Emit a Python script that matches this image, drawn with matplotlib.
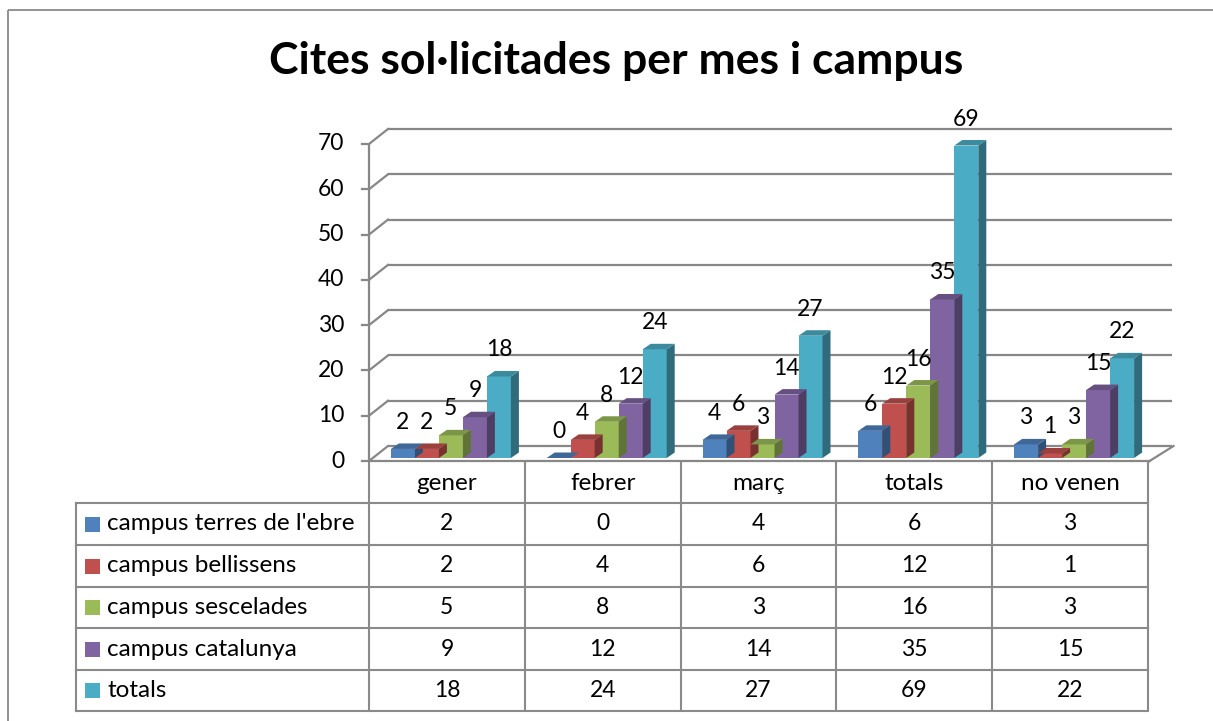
import matplotlib
matplotlib.use("Agg")
import matplotlib.pyplot as plt
import matplotlib.transforms as mtransforms
from matplotlib.patches import Polygon, Rectangle
from matplotlib.lines import Line2D
import numpy as np

plt.rcParams['font.family'] = ['Lato', 'DejaVu Sans']

# ---------------- data ----------------
title = "Cites sol·licitades per mes i campus"
categories = ["gener", "febrer", "març", "totals", "no venen"]
series_names = ["campus terres de l'ebre", "campus bellissens", "campus sescelades",
                "campus catalunya", "totals"]
terres_ebre = [2, 0, 4, 6, 3]
bellissens = [2, 4, 6, 12, 1]
sescelades = [5, 8, 3, 16, 3]
catalunya = [9, 12, 14, 35, 15]
totals = [18, 24, 27, 69, 22]
series_values = [terres_ebre, bellissens, sescelades, catalunya, totals]
colors = ["#4F81BD", "#C0504D", "#9BBB59", "#8064A2", "#4BACC6"]
yticks = [0, 10, 20, 30, 40, 50, 60, 70]

# ---------------- layout ----------------
W, H = 1213, 721
fig = plt.figure(figsize=(W / 100, H / 100), dpi=100)

# overlay axes in pixel coordinates (y downward)
ov = fig.add_axes([0, 0, 1, 1], zorder=0)
ov.set_xlim(0, W)
ov.set_ylim(H, 0)
ov.axis('off')

ax_left, ax_right, ax_bot, ax_top = 369, 1148, 461, 144
ax = fig.add_axes([ax_left / W, (H - ax_bot) / H, (ax_right - ax_left) / W, (ax_bot - ax_top) / H],
                  zorder=1)
ax.set_xlim(0, len(categories))
ax.set_ylim(0, 70)
ax.axis('off')
ax.patch.set_alpha(0)

grid_c = "#878787"
DX, DY = 19, 15          # back-wall offset (px)
back = mtransforms.offset_copy(ax.transData, fig=fig, x=DX, y=DY, units='dots')
barT = mtransforms.offset_copy(ax.transData, fig=fig, x=4, y=3, units='dots')
ident = mtransforms.IdentityTransform()

# outer border
ov.add_patch(Rectangle((8, 9.5), W + 20, H + 20, fill=False, ec="#8a8a8a", lw=1.3))

# gridlines on back wall + left wall diagonals
ncat = len(categories)
for v in yticks:
    ax.plot([0, ncat + 0.03], [v, v], color=grid_c, lw=1.6, transform=back, clip_on=False,
            solid_capstyle='butt')
    p = ax.transData.transform((0, v))
    fig.add_artist(Line2D([p[0], p[0] + DX], [p[1], p[1] + DY], color=grid_c, lw=1.6,
                          transform=ident))
    # tick mark
    fig.add_artist(Line2D([p[0] - 7, p[0]], [p[1], p[1]], color=grid_c, lw=1.6, transform=ident))
    # tick label
    lt = mtransforms.offset_copy(ax.transData, fig=fig, x=-25, y=0, units='dots')
    ax.text(0, v, str(v), transform=lt, ha='right', va='center', fontsize=16.5, clip_on=False)

# y axis line (front)
ax.plot([0, 0], [0, 70], color=grid_c, lw=1.6, clip_on=False, solid_capstyle='butt')
# floor front edge and right diagonal
ax.plot([0, ncat + 0.01], [0, 0], color=grid_c, lw=1.6, clip_on=False)
p = ax.transData.transform((ncat + 0.01, 0))
fig.add_artist(Line2D([p[0], p[0] + DX + 5], [p[1], p[1] + DY], color=grid_c, lw=1.6,
                      transform=ident))

# ---------------- bars ----------------
bw = 24 / ((ax_right - ax_left) / ncat)
x = np.arange(ncat)
SD, SH = 8, 5.5   # bar depth offsets px


def shade(c, f):
    r, g, b = matplotlib.colors.to_rgb(c)
    return (r * f, g * f, b * f)


for j, (vals, col) in enumerate(zip(series_values, colors)):
    xl = x + 0.5 - 2.5 * bw + j * bw
    ax.bar(xl, vals, width=bw, align='edge', color=col, transform=barT, clip_on=False,
           zorder=3 + j * 0.1)
    for k, v in enumerate(vals):
        a = barT.transform((xl[k], 0))
        b = barT.transform((xl[k] + bw, v))
        xa, ya, xb, yb = a[0], a[1], b[0], b[1]
        side = Polygon([[xb, ya], [xb, yb], [xb + SD, yb + SH], [xb + SD, ya + SH]],
                       closed=True, fc=shade(col, 0.62), ec='none', transform=ident,
                       zorder=2.9 + j * 0.1)
        top = Polygon([[xa, yb], [xb, yb], [xb + SD, yb + SH], [xa + SD, yb + SH]],
                      closed=True, fc=shade(col, 0.8), ec='none', transform=ident,
                      zorder=3.05 + j * 0.1)
        fig.add_artist(side)
        fig.add_artist(top)
        lab = mtransforms.offset_copy(ax.transData, fig=fig, x=4, y=3 + 20, units='dots')
        ax.text(xl[k] + bw / 2, v, str(v), transform=lab, ha='center', va='baseline',
                fontsize=16.5, clip_on=False, zorder=10)

# ---------------- data table ----------------
tab_c = "#8a8a8a"
row_edges = [461, 503, 545, 587, 628, 670, 711]
tab_left = 76
bt = mtransforms.blended_transform_factory(ax.transData, ov.transData)
# vertical lines between categories
for i in range(ncat + 1):
    ov.plot([i, i], [row_edges[0], row_edges[-1]], color=tab_c, lw=1.5, transform=bt,
            solid_capstyle='butt')
# horizontal lines
for ry in row_edges[1:]:
    ov.plot([tab_left, ax_left], [ry, ry], color=tab_c, lw=1.5)
    ov.plot([0, ncat], [ry, ry], color=tab_c, lw=1.5, transform=bt)
ov.plot([tab_left, tab_left], [row_edges[1], row_edges[-1]], color=tab_c, lw=1.5)

# header labels
for i, c in enumerate(categories):
    ov.text(i + 0.5, (row_edges[0] + row_edges[1]) / 2 + 1, c, transform=bt, ha='center',
            va='center', fontsize=17.5)
# rows
for r, (name, vals, col) in enumerate(zip(series_names, series_values, colors)):
    yc = (row_edges[r + 1] + row_edges[r + 2]) / 2
    ov.add_patch(Rectangle((85, yc - 7.5), 15, 15, fc=col, ec='none'))
    ov.text(107, yc, name, ha='left', va='center', fontsize=17.5)
    for i, v in enumerate(vals):
        ov.text(i + 0.5, yc, str(v), transform=bt, ha='center', va='center', fontsize=16.5)

# title
ov.text(616, 61, title, ha='center', va='center', fontsize=32, fontweight='bold')

fig.savefig("out.png", dpi=100)
